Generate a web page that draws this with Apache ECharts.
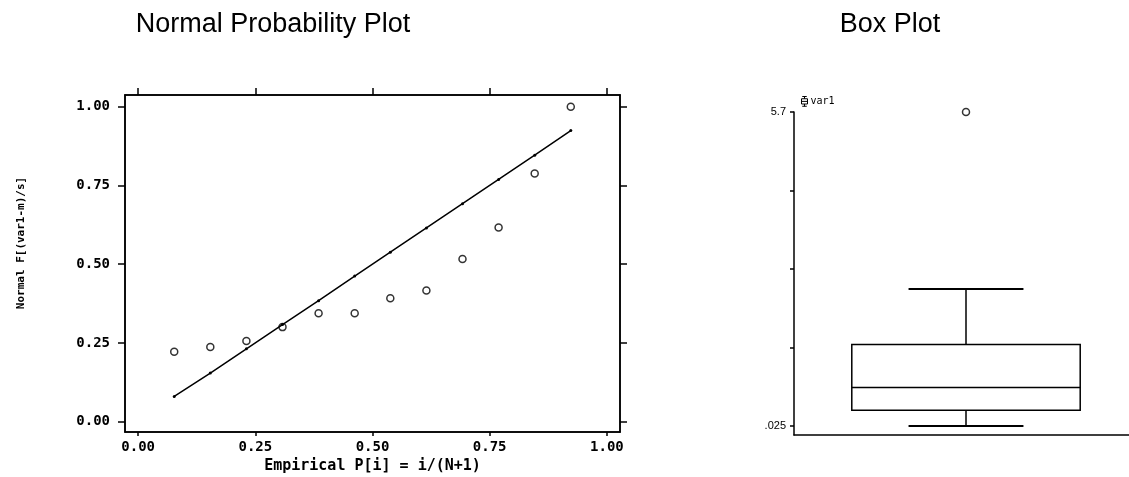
<!DOCTYPE html>
<html>
<head>
<meta charset="utf-8">
<script src="https://cdn.jsdelivr.net/npm/echarts@6/dist/echarts.min.js"></script>
<style>
    html, body { margin: 0; padding: 0; background: #fff; }
    #chart { width: 1129px; height: 477px; }
</style>
</head>
<body>
<div id="chart"></div>
<script>
// normal probability plot data, empirical P[i] = i/(N+1), N = 12
const empiricalP = [0.077, 0.154, 0.231, 0.308, 0.385, 0.462, 0.538, 0.615, 0.692, 0.769, 0.846, 0.923];
const observedF = [0.222, 0.237, 0.256, 0.300, 0.344, 0.344, 0.392, 0.416, 0.516, 0.616, 0.788, 1.000];
const fittedF = [0.08, 0.154, 0.231, 0.308, 0.384, 0.462, 0.538, 0.615, 0.692, 0.769, 0.846, 0.924];
const probTicks = [0, 0.25, 0.5, 0.75, 1];

// box plot of var1: min, q1, median, q3, upper whisker
const boxCategories = ['var1'];
const boxStats = [0.025, 0.31, 0.72, 1.5, 2.5];
const boxOutliers = [5.7];
const boxTicks = [0.025, 1.44375, 2.8625, 4.28125, 5.7];
const boxTickLabels = [0.025, 5.7];

const monoBold = { fontFamily: 'DejaVu Sans Mono', fontWeight: 'bold', color: '#000' };
const black = '#000';

const chart = echarts.init(document.getElementById('chart'));

const renderBox = function (params, api) {
    const x = api.value(0);
    const pMin = api.coord([x, api.value(1)]);
    const pQ1 = api.coord([x, api.value(2)]);
    const pMed = api.coord([x, api.value(3)]);
    const pQ3 = api.coord([x, api.value(4)]);
    const pMax = api.coord([x, api.value(5)]);
    const band = api.size([1, 0])[0];
    const hb = band * 0.332; // half box width
    const hc = band * 0.167; // half cap width
    const cx = pMed[0];
    const st = { stroke: black, lineWidth: 1.5, fill: null };
    return {
        type: 'group',
        children: [
            { type: 'rect', shape: { x: cx - hb, y: pQ3[1], width: hb * 2, height: pQ1[1] - pQ3[1] }, style: { stroke: black, lineWidth: 1.5, fill: '#fff' } },
            { type: 'line', shape: { x1: cx - hb, y1: pMed[1], x2: cx + hb, y2: pMed[1] }, style: st },
            { type: 'line', shape: { x1: cx, y1: pQ3[1], x2: cx, y2: pMax[1] }, style: st },
            { type: 'line', shape: { x1: cx, y1: pQ1[1], x2: cx, y2: pMin[1] }, style: st },
            { type: 'line', shape: { x1: cx - hc, y1: pMax[1], x2: cx + hc, y2: pMax[1] }, style: { stroke: black, lineWidth: 2 } },
            { type: 'line', shape: { x1: cx - hc, y1: pMin[1], x2: cx + hc, y2: pMin[1] }, style: { stroke: black, lineWidth: 2 } }
        ]
    };
};

const option = {
    backgroundColor: '#fff',
    animation: false,
    graphic: [
        { type: 'text', x: 273, y: 11, style: { text: 'Normal Probability Plot', font: '27px "Liberation Sans"', fill: black, textAlign: 'center', textVerticalAlign: 'top' } },
        { type: 'text', x: 890, y: 11, style: { text: 'Box Plot', font: '27px "Liberation Sans"', fill: black, textAlign: 'center', textVerticalAlign: 'top' } },
        { type: 'text', x: 21, y: 243, rotation: Math.PI / 2, style: { text: 'Normal F[(var1-m)/s]', font: 'bold 11px "DejaVu Sans Mono"', fill: black, textAlign: 'center', textVerticalAlign: 'middle' } }
    ],
    legend: {
        data: [{ name: 'var1', icon: 'path://M5,0V3M1,3H9V10H1ZM1,6.5H9M5,10V13M2,13H8M2,0H8' }],
        left: 794,
        top: 89,
        itemWidth: 6,
        itemHeight: 11,
        itemGap: 4,
        selectedMode: false,
        itemStyle: { color: 'none', borderColor: black, borderWidth: 1 },
        textStyle: { fontFamily: 'DejaVu Sans Mono', fontSize: 10, color: black, padding: [0, 0, 0, -2] }
    },
    grid: [
        { left: 125, top: 95, width: 495, height: 337, show: true, borderColor: black, borderWidth: 1.5, outerBoundsMode: 'none' },
        { left: 794, top: 112, width: 344, bottom: 42, outerBoundsMode: 'none' }
    ],
    xAxis: [
        {
            type: 'value', gridIndex: 0, min: -0.028, max: 1.028,
            name: 'Empirical P[i] = i/(N+1)', nameLocation: 'middle', nameGap: 26,
            nameTextStyle: Object.assign({ fontSize: 15 }, monoBold),
            axisLine: { show: true, onZero: false, lineStyle: { color: black, width: 1.5 } },
            axisTick: { show: true, length: 4, customValues: probTicks, lineStyle: { color: black, width: 1.5 } },
            axisLabel: { customValues: probTicks, margin: 8, fontSize: 14, ...monoBold, formatter: v => v.toFixed(2) },
            splitLine: { show: false }
        },
        {
            type: 'value', gridIndex: 0, position: 'top', min: -0.028, max: 1.028,
            axisLine: { show: true, onZero: false, lineStyle: { color: black, width: 1.5 } },
            axisTick: { show: true, length: 7, customValues: probTicks, lineStyle: { color: black, width: 1.5 } },
            axisLabel: { show: false },
            splitLine: { show: false }
        },
        {
            type: 'category', gridIndex: 1, data: boxCategories,
            axisLine: { show: true, onZero: false, lineStyle: { color: black, width: 1.5 } },
            axisTick: { show: false },
            axisLabel: { show: false }
        }
    ],
    yAxis: [
        {
            type: 'value', gridIndex: 0, min: -0.033, max: 1.037,
            axisLine: { show: true, onZero: false, lineStyle: { color: black, width: 1.5 } },
            axisTick: { show: true, length: 7, customValues: probTicks, lineStyle: { color: black, width: 1.5 } },
            axisLabel: { customValues: probTicks, margin: 15, fontSize: 14, ...monoBold, formatter: v => v.toFixed(2) },
            splitLine: { show: false }
        },
        {
            type: 'value', gridIndex: 0, position: 'right', min: -0.033, max: 1.037,
            axisLine: { show: true, onZero: false, lineStyle: { color: black, width: 1.5 } },
            axisTick: { show: true, length: 7, customValues: probTicks, lineStyle: { color: black, width: 1.5 } },
            axisLabel: { show: false },
            splitLine: { show: false }
        },
        {
            type: 'value', gridIndex: 1, min: -0.1375, max: 5.7,
            axisLine: { show: true, onZero: false, lineStyle: { color: black, width: 1.5 } },
            axisTick: { show: true, length: 4, customValues: boxTicks, lineStyle: { color: black, width: 1.5 } },
            axisLabel: {
                customValues: boxTickLabels, margin: 8, fontSize: 11, fontFamily: 'Liberation Sans', color: black,
                formatter: v => (v < 1 ? String(v).replace(/^0/, '') : String(v))
            },
            splitLine: { show: false }
        }
    ],
    series: [
        {
            type: 'line', xAxisIndex: 0, yAxisIndex: 0,
            data: empiricalP.map((p, i) => [p, fittedF[i]]),
            symbol: 'circle', symbolSize: 3,
            itemStyle: { color: black },
            lineStyle: { color: black, width: 1.5 }
        },
        {
            type: 'scatter', xAxisIndex: 0, yAxisIndex: 0,
            data: empiricalP.map((p, i) => [p, observedF[i]]),
            symbol: 'circle', symbolSize: 7,
            itemStyle: { color: '#fff', borderColor: black, borderWidth: 1.5 }
        },
        {
            type: 'custom', name: 'var1', xAxisIndex: 2, yAxisIndex: 2,
            renderItem: renderBox,
            encode: { x: 0, y: [1, 2, 3, 4, 5] },
            data: [[0].concat(boxStats)]
        },
        {
            type: 'scatter', xAxisIndex: 2, yAxisIndex: 2,
            data: boxOutliers.map(v => [0, v]),
            symbol: 'circle', symbolSize: 7,
            itemStyle: { color: '#fff', borderColor: black, borderWidth: 1.5 }
        }
    ]
};

chart.setOption(option);
</script>
</body>
</html>
